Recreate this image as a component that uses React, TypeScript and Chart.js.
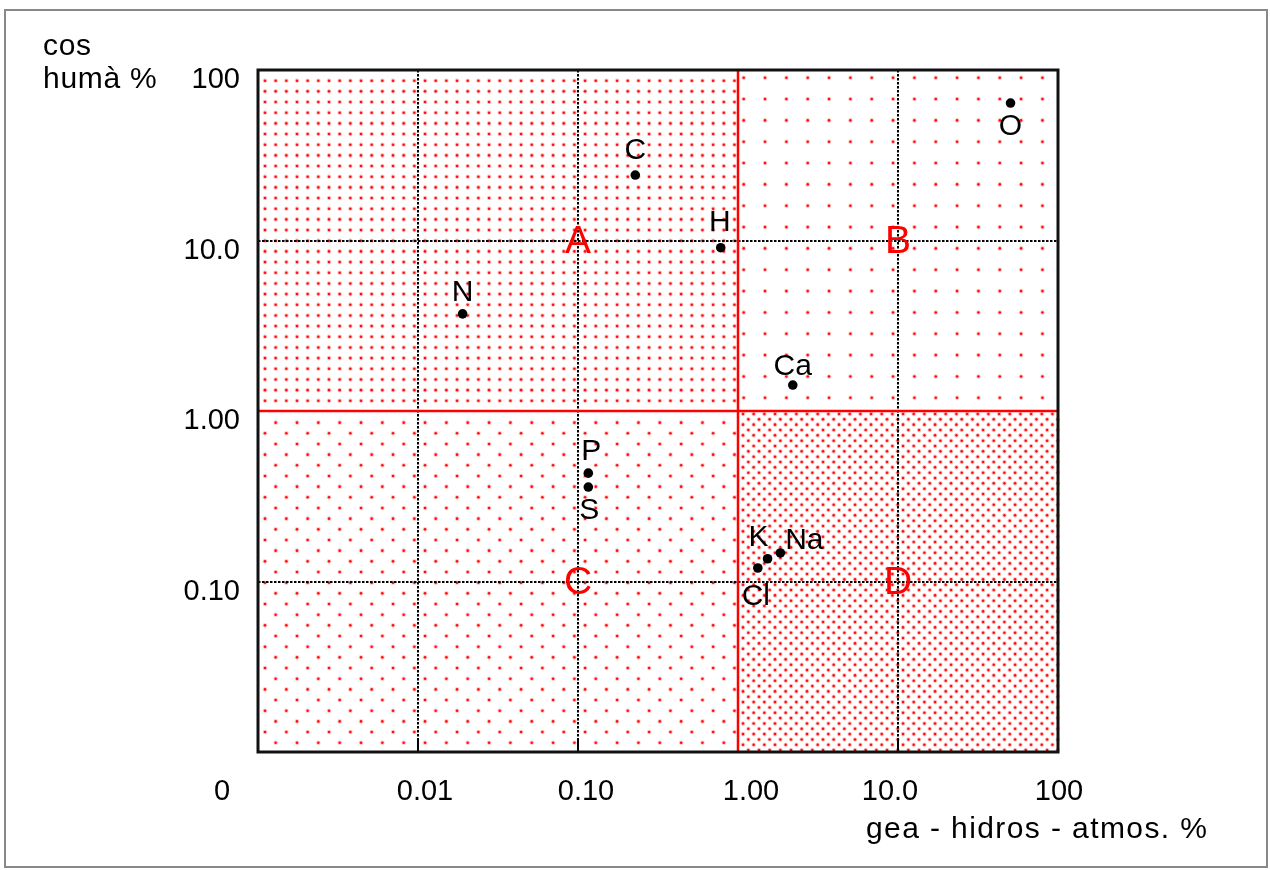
import { useEffect, useRef } from "react";
import { Chart, registerables } from "chart.js";

Chart.register(...registerables);

// ---- data ----
const elements = ["O", "C", "H", "N", "Ca", "P", "S", "K", "Na", "Cl"];
const geaValues = [50.5, 0.228, 0.78, 0.019, 2.2, 0.116, 0.116, 1.53, 1.84, 1.33];
const humanValues = [64, 24.2, 9.07, 3.71, 1.42, 0.432, 0.358, 0.136, 0.147, 0.12];

const xTickValues = [0.001, 0.01, 0.1, 1, 10, 100];
const xTickLabels = ["0", "0.01", "0.10", "1.00", "10.0", "100"];
const yTickValues = [100, 10, 1, 0.1];
const yTickLabels = ["100", "10.0", "1.00", "0.10"];

const zoneLetters = ["A", "B", "C", "D"];
const zoneX = [0.1, 10, 0.1, 10];
const zoneY = [10, 10, 0.1, 0.1];

const yTitleLines = ["cos", "humà %"];
const xTitle = "gea - hidros - atmos. %";

// ---- style (pixel offsets for labels) ----
const labelDX = [0, 0, -1, 0, 0, 3, 1, -9, 24, -2];
const labelDY = [24, -24, -25, -21, -18, -21, 24, -21, -12, 29];
const xTickDX = [-36, 7, 8, 13, -8, 1];

const FONT = "'Liberation Sans', Arial, sans-serif";

export default function App() {
  const ref = useRef<HTMLCanvasElement | null>(null);

  useEffect(() => {
    const canvas = ref.current;
    if (!canvas) return;

    const dots = (
      ctx: CanvasRenderingContext2D,
      x0: number, y0: number, x1: number, y1: number,
      ox: number, oy: number, sx: number, sy: number, stagger: number
    ) => {
      let k = Math.ceil((y0 - oy) / sy);
      for (; oy + k * sy <= y1; k++) {
        const y = oy + k * sy;
        if (y < y0 + 1) continue;
        const off = Math.abs(k) % 2 === 1 ? stagger : 0;
        const bx = ox + off;
        let m = Math.ceil((x0 - bx) / sx);
        for (; bx + m * sx <= x1; m++) {
          const x = bx + m * sx;
          if (x < x0 + 1) continue;
          ctx.fillStyle = "rgba(255,0,0,0.22)";
          ctx.beginPath();
          ctx.arc(x, y, 2.3, 0, Math.PI * 2);
          ctx.fill();
          ctx.fillStyle = "#ff1010";
          ctx.beginPath();
          ctx.arc(x, y, 1.3, 0, Math.PI * 2);
          ctx.fill();
        }
      }
    };

    const bgPlugin = {
      id: "bgPlugin",
      beforeDraw(chart: any) {
        const ctx = chart.ctx as CanvasRenderingContext2D;
        ctx.save();
        ctx.fillStyle = "#fff";
        ctx.fillRect(0, 0, chart.width, chart.height);
        ctx.restore();
      },
      beforeDatasetsDraw(chart: any) {
        const ctx = chart.ctx as CanvasRenderingContext2D;
        const { left, right, top, bottom } = chart.chartArea;
        const xs = chart.scales.x;
        const ys = chart.scales.y;
        const px1 = xs.getPixelForValue(1);
        const py1 = ys.getPixelForValue(1);
        ctx.save();
        const d = 10.67;
        dots(ctx, left, top, px1, py1, left + 7, top + 10.7, d, d, 0);
        dots(ctx, px1, top, right, py1, px1 + 5.7, top + 7.7, 2 * d, 2 * d, 0);
        dots(ctx, left, py1, px1, bottom, left + 7, bottom - 105.3, 2 * d, d, d);
        dots(ctx, px1, py1, right, bottom, px1 + 5, py1 + 3, d, d / 2, d / 2);

        ctx.strokeStyle = "#000";
        ctx.lineWidth = 2;
        ctx.setLineDash([2.5, 1.5]);
        [0.01, 0.1, 10].forEach((v) => {
          const x = Math.round(xs.getPixelForValue(v));
          ctx.beginPath();
          ctx.moveTo(x, top);
          ctx.lineTo(x, bottom);
          ctx.stroke();
        });
        [10, 0.1].forEach((v) => {
          const y = Math.round(ys.getPixelForValue(v));
          ctx.beginPath();
          ctx.moveTo(left, y);
          ctx.lineTo(right, y);
          ctx.stroke();
        });
        ctx.setLineDash([]);
        [0.01, 0.1, 10].forEach((v) => {
          const x = Math.round(xs.getPixelForValue(v));
          ctx.beginPath();
          ctx.moveTo(x, bottom);
          ctx.lineTo(x, bottom - 12);
          ctx.stroke();
        });
        ctx.strokeStyle = "#ff0000";
        ctx.lineWidth = 2.5;
        ctx.beginPath();
        ctx.moveTo(px1, top);
        ctx.lineTo(px1, bottom);
        ctx.moveTo(left, py1);
        ctx.lineTo(right, py1);
        ctx.stroke();
        ctx.strokeStyle = "#111";
        ctx.lineWidth = 3;
        ctx.strokeRect(left, top, right - left, bottom - top);
        ctx.restore();
      },
      afterDatasetsDraw(chart: any) {
        const ctx = chart.ctx as CanvasRenderingContext2D;
        const xs = chart.scales.x;
        const ys = chart.scales.y;
        const { left, bottom } = chart.chartArea;
        ctx.save();
        ctx.textBaseline = "middle";
        ctx.fillStyle = "#000";
        ctx.font = `30px ${FONT}`;
        ctx.textAlign = "center";
        elements.forEach((el, i) => {
          const x = xs.getPixelForValue(geaValues[i]) + labelDX[i];
          const y = ys.getPixelForValue(humanValues[i]) + labelDY[i];
          ctx.fillText(el, x, y);
        });
        ctx.fillStyle = "#ff0000";
        ctx.font = `39px ${FONT}`;
        zoneLetters.forEach((l, i) => {
          ctx.fillText(l, xs.getPixelForValue(zoneX[i]), ys.getPixelForValue(zoneY[i]) + 2);
        });
        ctx.fillStyle = "#000";
        ctx.font = `29px ${FONT}`;
        ctx.textAlign = "center";
        xTickValues.forEach((v, i) => {
          ctx.fillText(xTickLabels[i], xs.getPixelForValue(v) + xTickDX[i], bottom + 40);
        });
        ctx.textAlign = "right";
        yTickValues.forEach((v, i) => {
          ctx.fillText(yTickLabels[i], left - 18, ys.getPixelForValue(v) + 10);
        });
        ctx.font = `30px ${FONT}`;
        (ctx as any).letterSpacing = "0.7px";
        ctx.textAlign = "left";
        ctx.fillText(yTitleLines[0], 43, 47);
        ctx.fillText(yTitleLines[1], 43, 80);
        (ctx as any).letterSpacing = "1.4px";
        ctx.fillText(xTitle, 866, 830);
        (ctx as any).letterSpacing = "0px";
        ctx.strokeStyle = "#888";
        ctx.lineWidth = 2;
        ctx.strokeRect(5, 10, 1262, 857);
        ctx.restore();
      },
    };

    const chart = new Chart(canvas, {
      type: "scatter",
      data: {
        datasets: [
          {
            data: elements.map((_, i) => ({ x: geaValues[i], y: humanValues[i] })),
            backgroundColor: "#000",
            borderColor: "#000",
            borderWidth: 0,
            pointRadius: 4.8,
          },
        ],
      },
      options: {
        animation: false,
        responsive: false,
        devicePixelRatio: 1,
        layout: { padding: { left: 258, top: 70, right: 212, bottom: 118 } },
        plugins: { legend: { display: false }, tooltip: { enabled: false } },
        scales: {
          x: { type: "logarithmic", min: 0.001, max: 100, display: false },
          y: { type: "logarithmic", min: 0.01, max: 100, display: false },
        },
      },
      plugins: [bgPlugin],
    });
    return () => chart.destroy();
  }, []);

  return (
    <div style={{ position: "fixed", left: 0, top: 0, width: 1270, height: 870, background: "#fff" }}>
      <canvas ref={ref} width={1270} height={870} style={{ display: "block", width: 1270, height: 870 }} />
    </div>
  );
}
